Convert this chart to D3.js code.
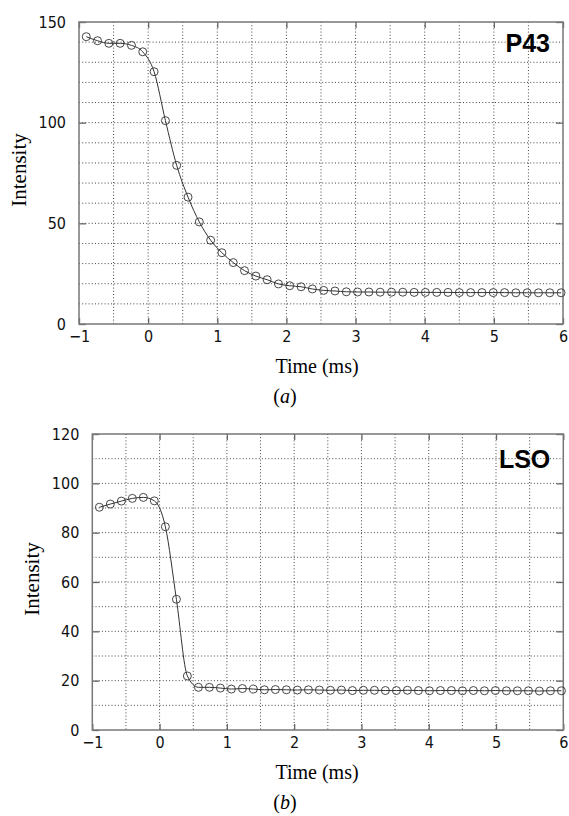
<!DOCTYPE html>
<html>
<head>
<meta charset="utf-8">
<script src="https://cdn.jsdelivr.net/npm/d3@7"></script>
<style>
  body { margin: 0; background: #fff; }
  .tick text { font-family: 'Liberation Sans Narrow', 'DejaVu Sans Condensed', sans-serif; font-size: 16px; fill: #111; }
  .tick line { stroke: #666; stroke-width: 1.3; }
  .grid line { stroke: #444; stroke-width: 1; stroke-dasharray: 1,2.2; }
</style>
</head>
<body>
<div id="chart"></div>
<script>
let width = 569;
let height = 816;

// sample times (ms), shared by both panels
let times = [-0.895, -0.732, -0.568, -0.405, -0.241, -0.078, 0.086, 0.250, 0.413, 0.577,
    0.740, 0.904, 1.067, 1.231, 1.394, 1.558, 1.721, 1.885, 2.048, 2.212,
    2.375, 2.539, 2.702, 2.866, 3.029, 3.193, 3.356, 3.520, 3.683, 3.847,
    4.010, 4.174, 4.337, 4.501, 4.664, 4.828, 4.991, 5.155, 5.318, 5.482,
    5.645, 5.809, 5.972];

// P43 intensity
let p43 = [142.7, 140.7, 139.4, 139.4, 138.4, 135.2, 125.3, 101.0, 78.8, 63.0,
    50.7, 41.6, 35.4, 30.5, 26.5, 23.8, 22.0, 19.9, 19.0, 18.5,
    17.4, 16.7, 16.4, 16.0, 15.9, 15.9, 15.8, 15.8, 15.8, 15.7,
    15.7, 15.7, 15.7, 15.6, 15.6, 15.6, 15.6, 15.6, 15.5, 15.5,
    15.5, 15.5, 15.5];

// LSO intensity
let lso = [90.3, 91.6, 92.8, 93.9, 94.3, 92.9, 82.4, 53.0, 21.9, 17.3,
    17.3, 17.0, 16.6, 16.8, 16.6, 16.3, 16.4, 16.3, 16.2, 16.3,
    16.2, 16.1, 16.2, 16.0, 16.1, 16.1, 16.0, 16.0, 16.1, 16.0,
    15.9, 16.0, 16.0, 15.9, 16.0, 15.9, 16.0, 15.9, 15.9, 15.9,
    15.8, 15.9, 15.9];

let xTicks = [-1, 0, 1, 2, 3, 4, 5, 6];
let xGrid = [-0.5, 0, 0.5, 1, 1.5, 2, 2.5, 3, 3.5, 4, 4.5, 5, 5.5];
let yTicksA = [0, 50, 100, 150];
let yTicksB = [0, 20, 40, 60, 80, 100, 120];

let panels = [
    { name: "P43", values: p43, yMax: 150, yTicks: yTicksA, caption: "a",
      left: 79, right: 563, top: 22, bottom: 324 },
    { name: "LSO", values: lso, yMax: 120, yTicks: yTicksB, caption: "b",
      left: 92.3, right: 563.3, top: 434, bottom: 730 }
];

let svg = d3.select("#chart")
    .append("svg")
    .attr("width", width)
    .attr("height", height);

let fmt = d3.format("d");

panels.forEach(function (p) {
    let x = d3.scaleLinear().domain([-1, 6]).range([p.left, p.right]);
    let y = d3.scaleLinear().domain([0, p.yMax]).range([p.bottom, p.top]);
    let g = svg.append("g");

    // dotted grid
    let grid = g.append("g").attr("class", "grid");
    grid.selectAll(".vg")
        .data(xGrid)
        .enter().append("line")
        .attr("x1", function (d) { return x(d); })
        .attr("x2", function (d) { return x(d); })
        .attr("y1", p.top).attr("y2", p.bottom);
    grid.selectAll(".hg")
        .data(d3.range(10, p.yMax, 10))
        .enter().append("line")
        .attr("y1", function (d) { return y(d); })
        .attr("y2", function (d) { return y(d); })
        .attr("x1", p.left).attr("x2", p.right);

    // axes, ticks pointing inward
    let bottomAxis = d3.axisBottom(x).tickValues(xTicks).tickFormat(fmt).tickSize(-6).tickPadding(7);
    let topAxis = d3.axisTop(x).tickValues(xTicks).tickSize(-6).tickFormat("");
    let leftAxis = d3.axisLeft(y).tickValues(p.yTicks).tickFormat(fmt).tickSize(-7).tickPadding(13);
    let rightAxis = d3.axisRight(y).tickValues(p.yTicks).tickSize(-7).tickFormat("");

    g.append("g").attr("transform", "translate(0," + p.bottom + ")").call(bottomAxis);
    g.append("g").attr("transform", "translate(0," + p.top + ")").call(topAxis);
    g.append("g").attr("transform", "translate(" + p.left + ",0)").call(leftAxis);
    g.append("g").attr("transform", "translate(" + p.right + ",0)").call(rightAxis);
    g.selectAll(".domain").remove();

    // frame
    g.append("rect")
        .attr("x", p.left).attr("y", p.top)
        .attr("width", p.right - p.left).attr("height", p.bottom - p.top)
        .attr("fill", "none").attr("stroke", "#777").attr("stroke-width", 1.5);

    let pts = times.map(function (t, i) { return [t, p.values[i]]; });

    let line = d3.line()
        .x(function (d) { return x(d[0]); })
        .y(function (d) { return y(d[1]); })
        .curve(d3.curveMonotoneX);

    g.append("path")
        .datum(pts)
        .attr("d", line)
        .attr("fill", "none")
        .attr("stroke", "#333")
        .attr("stroke-width", 1);

    g.selectAll(".pt")
        .data(pts)
        .enter().append("circle")
        .attr("cx", function (d) { return x(d[0]); })
        .attr("cy", function (d) { return y(d[1]); })
        .attr("r", 4)
        .attr("fill", "none")
        .attr("stroke", "#333")
        .attr("stroke-width", 0.9);

    // panel name
    g.append("text")
        .attr("x", p.right - 13)
        .attr("y", p.top + (p.name === "P43" ? 30 : 34))
        .attr("text-anchor", "end")
        .style("font-family", "'Liberation Sans', Arial, sans-serif")
        .style("font-weight", "bold")
        .style("font-size", "25px")
        .text(p.name);

    // axis titles
    g.append("text")
        .attr("x", 317)
        .attr("y", p.bottom + 49)
        .attr("text-anchor", "middle")
        .style("font-family", "'Liberation Serif', 'Times New Roman', serif")
        .style("font-size", "20px")
        .text("Time (ms)");

    g.append("text")
        .attr("transform", "translate(" + (p.left - 53) + "," + ((p.top + p.bottom) / 2 - 3) + ") rotate(-90)")
        .attr("text-anchor", "middle")
        .style("font-family", "'Liberation Serif', 'Times New Roman', serif")
        .style("font-size", "21px")
        .text("Intensity");

    // caption
    let cap = g.append("text")
        .attr("x", 285)
        .attr("y", p.bottom + 79)
        .attr("text-anchor", "middle")
        .style("font-family", "'Liberation Serif', 'Times New Roman', serif")
        .style("font-size", "20px");
    cap.append("tspan").text("(");
    cap.append("tspan").style("font-style", "italic").text(p.caption);
    cap.append("tspan").text(")");
});
</script>
</body>
</html>
